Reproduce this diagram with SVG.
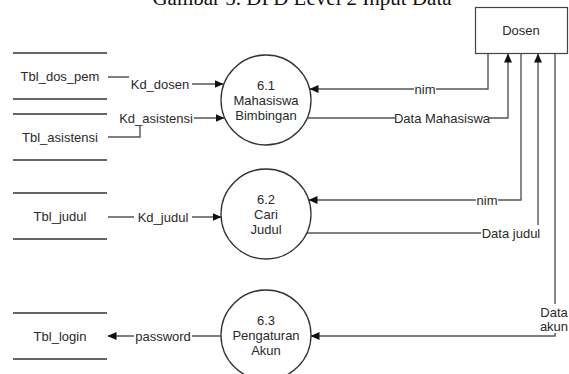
<svg xmlns="http://www.w3.org/2000/svg" width="569" height="374" viewBox="0 0 569 374">
<defs>
<marker id="ah" markerWidth="9" markerHeight="8" refX="8.5" refY="4" orient="auto" markerUnits="userSpaceOnUse">
<path d="M0,0 L9,4 L0,8 Z" fill="#111"/>
</marker>
<style>
.t{font-family:"Liberation Sans",Arial,sans-serif;font-size:13px;fill:#2a2a2a;text-anchor:middle;dominant-baseline:central}
.c{fill:#fff;stroke:#333;stroke-width:1.3}
.s{stroke:#666;stroke-width:2;fill:none}
.f{fill:none;stroke:#555;stroke-width:1.4}
.a{marker-end:url(#ah)}
.bg{fill:#fff}
</style>
</defs>
<rect width="569" height="374" fill="#fff"/>
<text x="302" y="5" font-family="'Liberation Serif','Times New Roman',serif" font-size="21" text-anchor="middle" fill="#111">Gambar 5. DFD Level 2 Input Data</text>

<g id="connectors">
<path class="f a" d="M108,77 H131 V84 H223"/>
<path class="f a" d="M108,137 H140 V118 H224"/>
<path class="f a" d="M108,217 H221"/>
<path class="f a" d="M221,336 H108"/>
<path class="f a" d="M488,53 V89 H310"/>
<path class="f a" d="M307,118 H508 V54"/>
<path class="f a" d="M521,53 V200 H309"/>
<path class="f a" d="M307,233 H538 V54"/>
<path class="f a" d="M555,53 V336 H311"/>
<rect class="bg" x="129" y="76" width="63" height="16"/>
<text class="t" x="160" y="84">Kd_dosen</text>
<rect class="bg" x="118" y="110" width="76" height="16"/>
<text class="t" x="156" y="118">Kd_asistensi</text>
<rect class="bg" x="134" y="209" width="58" height="16"/>
<text class="t" x="163" y="217">Kd_judul</text>
<rect class="bg" x="134" y="328" width="58" height="16"/>
<text class="t" x="163" y="336">password</text>
<rect class="bg" x="414" y="81" width="22" height="16"/>
<text class="t" x="425" y="89">nim</text>
<rect class="bg" x="395" y="110" width="94" height="16"/>
<text class="t" x="442" y="118">Data Mahasiswa</text>
<rect class="bg" x="476" y="192" width="22" height="16"/>
<text class="t" x="487" y="200">nim</text>
<rect class="bg" x="481" y="225" width="60" height="16"/>
<text class="t" x="511" y="233">Data judul</text>
<rect class="bg" x="539" y="304" width="30" height="29"/>
<text class="t" x="554" y="312">Data</text>
<text class="t" x="554" y="326">akun</text>
</g>

<g id="Dosen">
<rect x="475.5" y="7.5" width="92" height="46" fill="#fff" stroke="#444" stroke-width="1.2"/>
<text class="t" x="521" y="30">Dosen</text>
</g>

<g id="p61">
<circle class="c" cx="266" cy="100" r="45"/>
<text class="t" x="266" y="85">6.1</text>
<text class="t" x="266" y="100">Mahasiswa</text>
<text class="t" x="266" y="115">Bimbingan</text>
</g>
<g id="p62">
<circle class="c" cx="266" cy="214" r="45"/>
<text class="t" x="266" y="199">6.2</text>
<text class="t" x="266" y="214">Cari</text>
<text class="t" x="266" y="229">Judul</text>
</g>
<g id="p63">
<circle class="c" cx="266" cy="335" r="45"/>
<text class="t" x="266" y="320">6.3</text>
<text class="t" x="266" y="335">Pengaturan</text>
<text class="t" x="266" y="350">Akun</text>
</g>

<g id="Tbl_dos_pem">
<path class="s" d="M13,53 H107 M13,99 H107"/>
<text class="t" x="60" y="76">Tbl_dos_pem</text>
</g>
<g id="Tbl_asistensi">
<path class="s" d="M13,114 H107 M13,160 H107"/>
<text class="t" x="60" y="137">Tbl_asistensi</text>
</g>
<g id="Tbl_judul">
<path class="s" d="M13,193 H107 M13,239 H107"/>
<text class="t" x="60" y="216">Tbl_judul</text>
</g>
<g id="Tbl_login">
<path class="s" d="M13,313 H107 M13,359 H107"/>
<text class="t" x="60" y="336">Tbl_login</text>
</g>
</svg>
